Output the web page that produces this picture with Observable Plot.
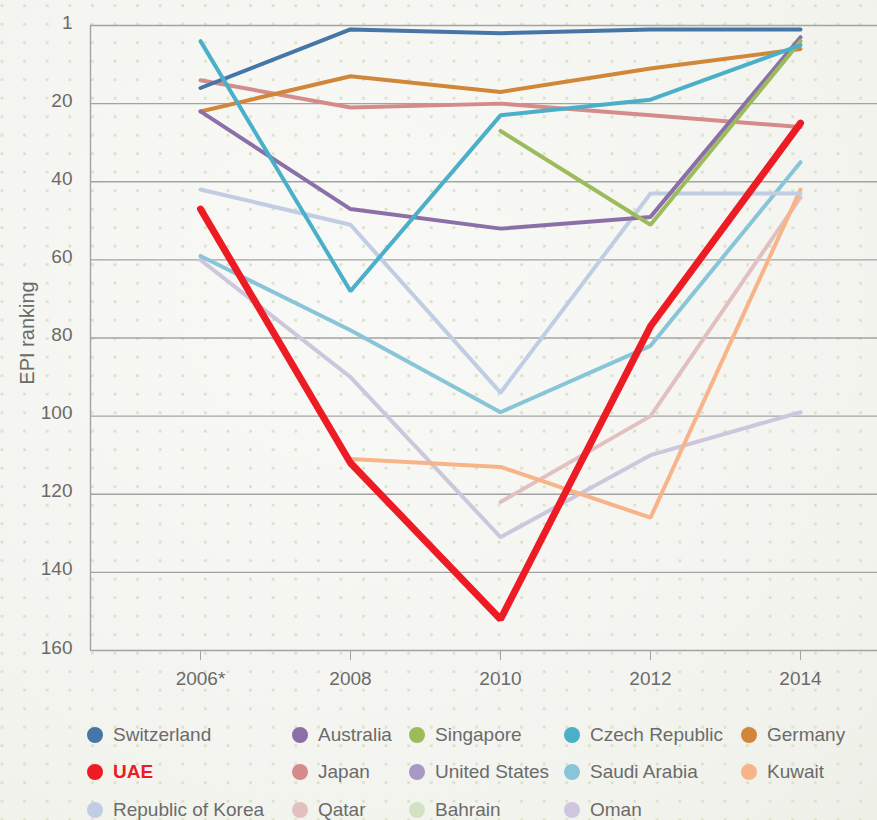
<!DOCTYPE html>
<html><head><meta charset="utf-8">
<script src="https://cdn.jsdelivr.net/npm/d3@7"></script>
<script src="https://cdn.jsdelivr.net/npm/@observablehq/plot@0.6"></script>
<style>
html,body{margin:0;padding:0;}
body{width:877px;height:820px;overflow:hidden;font-family:"Liberation Sans",Arial,sans-serif;
background-color:#f3f4ef;
background-image: radial-gradient(circle, #dce1ca 1.3px, rgba(0,0,0,0) 1.7px), radial-gradient(ellipse at 40% 35%, #f9f9f7 0%, #f4f5f0 60%, #eef0e8 100%);
background-size: 22.6px 18.5px, 100% 100%;
background-position: -9.3px -3.55px, 0 0;
}
#chart svg{display:block;background:transparent;}
#legend{display:grid;grid-template-columns:205px 117px 155px 177px 136px;margin-left:87px;padding-top:16px;}
.item{display:flex;align-items:center;height:37.5px;font-size:19px;color:#6b6b6b;white-space:nowrap;}
.dot{width:16px;height:16px;border-radius:50%;margin-right:10px;flex:none;}
</style></head>
<body>
<div id="chart"></div>
<div id="legend"></div>
<script>
const years = [2006, 2008, 2010, 2012, 2014];
const yearLabels = ["2006*", "2008", "2010", "2012", "2014"];
const rankTicks = [0, 20, 40, 60, 80, 100, 120, 140, 160];
const rankTickLabels = ["1", "20", "40", "60", "80", "100", "120", "140", "160"];

const legendNames = ["Switzerland","Australia","Singapore","Czech Republic","Germany",
  "UAE","Japan","United States","Saudi Arabia","Kuwait",
  "Republic of Korea","Qatar","Bahrain","Oman"];
const legendColors = ["#4675a8","#8a6fa8","#9cbb5a","#4aafc8","#d1863a",
  "#ed1c24","#d58b8a","#a898c4","#88c5d8","#f8b489",
  "#c0cde2","#e2c0c0","#d3e2c4","#cdc6dc"];

const switzerland = [16, 1, 2, 1, 1];
const germany = [22, 13, 17, 11, 6];
const japan = [14, 21, 20, 23, 26];
const czech = [4, 68, 23, 19, 5];
const singapore = [null, null, 27, 51, 4];
const australia = [22, 47, 52, 49, 3];
const korea = [42, 51, 94, 43, 43];
const saudi = [59, 78, 99, 82, 35];
const oman = [60, 90, 131, 110, 99];
const uae = [47, 112, 152, 77, 25];
const kuwait = [null, 111, 113, 126, 42];
const qatar = [null, null, 122, 100, 44];

const colorOf = n => legendColors[legendNames.indexOf(n)];
// draw order (bottom to top)
const series = [
  ["Oman", oman], ["Qatar", qatar], ["Kuwait", kuwait], ["Saudi Arabia", saudi],
  ["Republic of Korea", korea], ["Japan", japan], ["Germany", germany],
  ["Switzerland", switzerland], ["Australia", australia], ["Singapore", singapore],
  ["Czech Republic", czech], ["UAE", uae]
];

const xDomain = [2006 - 110/75, 2006 + 677/75];
const grey = "#a3a3a3";

const lineMarks = series.map(([name, vals]) => {
  const rows = years.map((yr, i) => ({year: yr, rank: vals[i]}));
  return Plot.line(rows, {x: "year", y: "rank", stroke: colorOf(name),
    strokeWidth: name === "UAE" ? 7 : 4, strokeLinecap: "round", strokeLinejoin: "miter"});
});

const chart = Plot.plot({
  width: 877, height: 700,
  marginLeft: 90, marginRight: 0, marginTop: 25, marginBottom: 50,
  style: {fontFamily: '"Liberation Sans", Arial, sans-serif', fontSize: "19px", color: "#6a6a6a", background: "transparent"},
  x: {type: "linear", domain: xDomain},
  y: {domain: [0, 160], reverse: true},
  marks: [
    Plot.ruleY(rankTicks, {stroke: grey, strokeWidth: 1.4}),
    Plot.ruleX([xDomain[0]], {y1: 0, y2: 160, stroke: grey, strokeWidth: 1.4}),
    Plot.axisX(years, {tickSize: 10, tickPadding: 11, tickFormat: d => yearLabels[years.indexOf(d)], fontSize: 19, stroke: grey, label: null}),
    Plot.axisY(rankTicks, {tickSize: 0, tickPadding: 18, dy: -3, tickFormat: d => rankTickLabels[rankTicks.indexOf(d)], fontSize: 19, label: null}),
    Plot.text(["EPI ranking"], {frameAnchor: "left", textAnchor: "middle", dx: -63, dy: -5, rotate: -90, fontSize: 20, fill: "#6a6a6a"}),
    ...lineMarks
  ]
});
document.getElementById("chart").appendChild(chart);

const legend = document.getElementById("legend");
legendNames.forEach((n, i) => {
  const it = document.createElement("div");
  it.className = "item";
  const d = document.createElement("span");
  d.className = "dot";
  d.style.background = legendColors[i];
  const t = document.createElement("span");
  t.textContent = n;
  if (n === "UAE") { t.style.color = "#ed1c24"; t.style.fontWeight = "bold"; }
  it.appendChild(d); it.appendChild(t);
  legend.appendChild(it);
});
</script>
</body></html>
